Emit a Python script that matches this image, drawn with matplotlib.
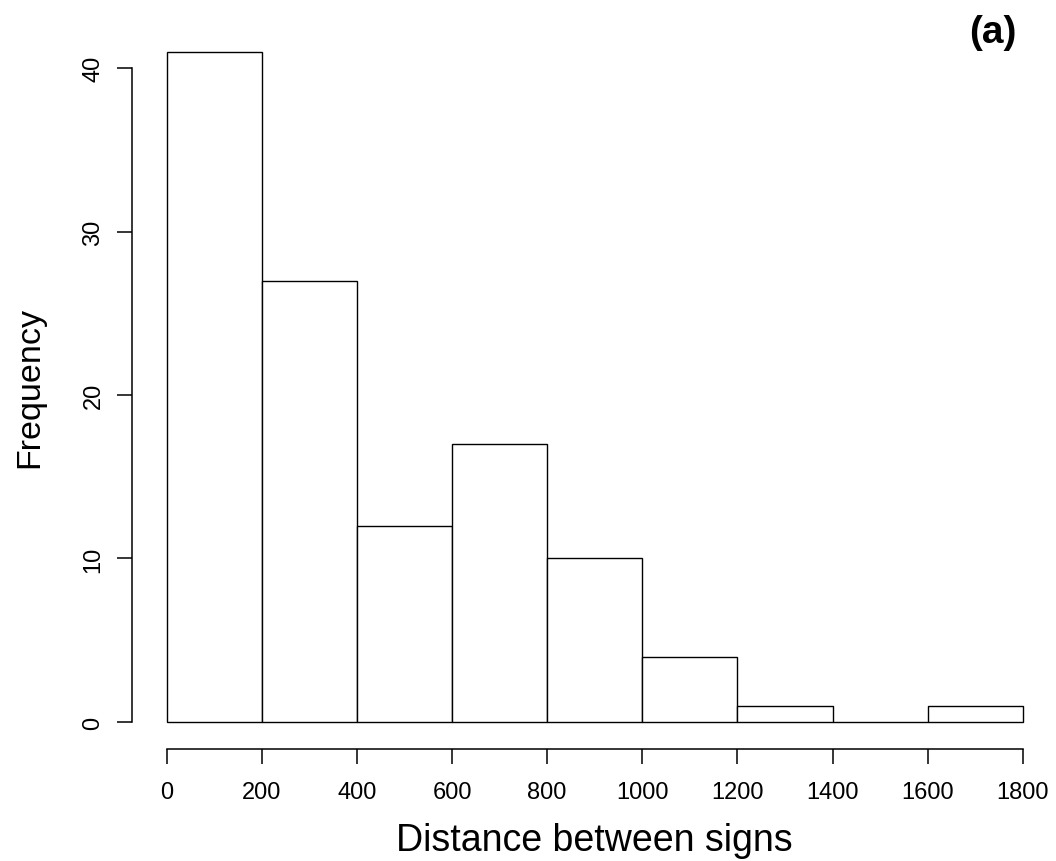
import matplotlib.pyplot as plt
import numpy as np

# Histogram counts (bin width 200)
bin_edges = [0, 200, 400, 600, 800, 1000, 1200, 1400, 1600, 1800]
counts = [41, 27, 12, 17, 10, 4, 1, 0, 1]
x_ticks = [0, 200, 400, 600, 800, 1000, 1200, 1400, 1600, 1800]
y_ticks = [0, 10, 20, 30, 40]

plt.rcParams["font.family"] = ["Liberation Sans", "DejaVu Sans"]

fig = plt.figure(figsize=(10.56, 8.62), dpi=100)
ax = fig.add_axes([0.1579, 0.1613, 0.8106, 0.7776])

left = np.array(bin_edges[:-1])
widths = np.diff(bin_edges)
bars = ax.bar(left, counts, width=widths, align="edge", facecolor="white",
              edgecolor="black", linewidth=1.0)
for b in bars:
    b.set_clip_on(False)

ax.set_xlim(0, 1800)
ax.set_ylim(0, 41)

# R-style detached axes
for side in ["top", "right"]:
    ax.spines[side].set_visible(False)
ax.spines["left"].set_position(("outward", 25))
ax.spines["bottom"].set_position(("outward", 19.5))
ax.spines["left"].set_bounds(0, 40)
ax.spines["bottom"].set_bounds(0, 1800)
for side in ["left", "bottom"]:
    ax.spines[side].set_linewidth(1.1)

ax.set_xticks(x_ticks)
ax.set_yticks(y_ticks)
ax.set_yticklabels([str(v) for v in y_ticks], rotation=90, va="center")
ax.tick_params(axis="both", direction="out", length=10.8, width=1.1,
               labelsize=17)
ax.tick_params(axis="x", pad=12)
ax.tick_params(axis="y", pad=9)

ax.set_xlabel("Distance between signs", fontsize=27, labelpad=14)
ax.set_ylabel("Frequency", fontsize=24.5, labelpad=27)

fig.text(0.940, 0.962, "(a)", fontsize=28, fontweight="bold",
         ha="center", va="center")

fig.savefig("out.png", dpi=100)
